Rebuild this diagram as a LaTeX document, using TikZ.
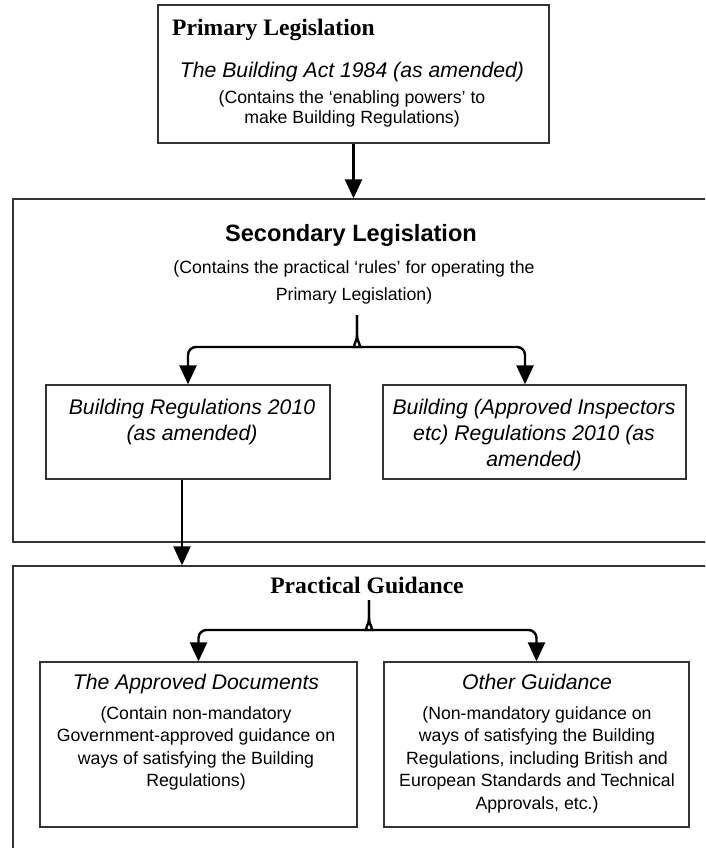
\documentclass[tikz,border=0pt]{standalone}
\usepackage{fontspec}
\setmainfont{Liberation Serif}
\setsansfont{Liberation Sans}
\usetikzlibrary{arrows.meta,positioning,calc}

\tikzset{
  frame/.style={draw=black!80, line width=1.3pt, inner sep=0pt},
  flow/.style={line width=2.4pt, -{Triangle[length=19pt,width=17pt]}},
  head/.style={font=\fontsize{23.6}{26}\selectfont\bfseries, inner sep=0pt, anchor=base},
  shead/.style={head, font=\fontsize{23.6}{26}\selectfont\sffamily\bfseries},
  title/.style={font=\fontsize{21.2}{26}\selectfont\sffamily\itshape, inner sep=0pt, anchor=base, align=center},
  note/.style={font=\fontsize{17.7}{22.5}\selectfont\sffamily, inner sep=0pt, anchor=base, align=center},
}

\begin{document}
\begin{tikzpicture}[x=1pt,y=-1pt]
  \useasboundingbox (0,0) rectangle (705,848);
  \clip (0,0) rectangle (705,848);

  % outer frames
  \node[frame, minimum width=391pt, minimum height=138pt] (pbox) at (353.5,74) {};
  \node[frame, minimum width=707pt, minimum height=343pt] (sbox) at (366.5,370.5) {};
  \node[frame, minimum width=707pt, minimum height=300pt] (gbox) at (366.5,716) {};

  % inner frames
  \node[frame, minimum width=284pt, minimum height=94pt] (bra) at (188,432) {};
  \node[frame, minimum width=303pt, minimum height=94pt] (brb) at (534.5,432) {};
  \node[frame, minimum width=317pt, minimum height=165pt] (adoc) at (198.5,744.5) {};
  \node[frame, minimum width=305pt, minimum height=165pt] (oth) at (536.5,744.5) {};

  % primary legislation (multi-line nodes sit on their last baseline)
  \node[head, anchor=base west] (ptitle) at (172,36) {Primary Legislation};
  \node[title] (pact) at (352,77.5) {The Building Act 1984 (as amended)};
  \node[note, font=\fontsize{17.7}{20}\selectfont\sffamily] (pnote) at (352,124)
    {(Contains the ‘enabling powers’ to\\make Building Regulations)};

  % secondary legislation
  \node[shead] (stitle) at (351,241.5) {Secondary Legislation};
  \node[note, font=\fontsize{17.7}{27}\selectfont\sffamily] (snote) at (354,300)
    {(Contains the practical ‘rules’ for operating the\\Primary Legislation)};
  \node[title] (bratxt) at (192,440.5) {Building Regulations 2010\\(as amended)};
  \node[title] (brbtxt) at (534,466.5) {Building (Approved Inspectors\\etc) Regulations 2010 (as\\amended)};

  % practical guidance
  \node[head] (gtitle) at (367,593.5) {Practical Guidance};
  \node[title] (adoctxt) at (196,689.5) {The Approved Documents};
  \node[note] (adocnote) at (196,786.5)
    {(Contain non-mandatory\\Government-approved guidance on\\ways of satisfying the Building\\Regulations)};
  \node[title] (othtxt) at (537,689.5) {Other Guidance};
  \node[note] (othnote) at (537,809)
    {(Non-mandatory guidance on\\ways of satisfying the Building\\Regulations, including British and\\European Standards and Technical\\Approvals, etc.)};

  % connectors
  \draw[flow] (pbox.south) -- (pbox.south |- sbox.north);

  \coordinate (sfork) at (357,315);
  \coordinate (sbar) at (357,347);
  \coordinate (brbin) at ($(brb.north)+(-9.5,0)$);
  \draw[flow, rounded corners=8pt] (sfork) -- ++(0,12) .. controls +(0,16) and +(3,0) .. ($(sbar)+(-9,0)$)
    -- (bra.north |- sbar) -- (bra.north);
  \draw[flow, rounded corners=8pt] (sfork) -- ++(0,12) .. controls +(0,16) and +(-3,0) .. ($(sbar)+(9,0)$)
    -- (brbin |- sbar) -- (brbin);

  \coordinate (bout) at ($(bra.south)+(-6,0)$);
  \draw[flow] (bout) -- (bout |- gbox.north);

  \coordinate (gfork) at (369,600);
  \coordinate (gbar) at (369,630);
  \draw[flow, rounded corners=8pt] (gfork) -- ++(0,10) .. controls +(0,16) and +(3,0) .. ($(gbar)+(-9,0)$)
    -- (adoc.north |- gbar) -- (adoc.north);
  \draw[flow, rounded corners=8pt] (gfork) -- ++(0,10) .. controls +(0,16) and +(-3,0) .. ($(gbar)+(9,0)$)
    -- (oth.north |- gbar) -- (oth.north);
\end{tikzpicture}
\end{document}
